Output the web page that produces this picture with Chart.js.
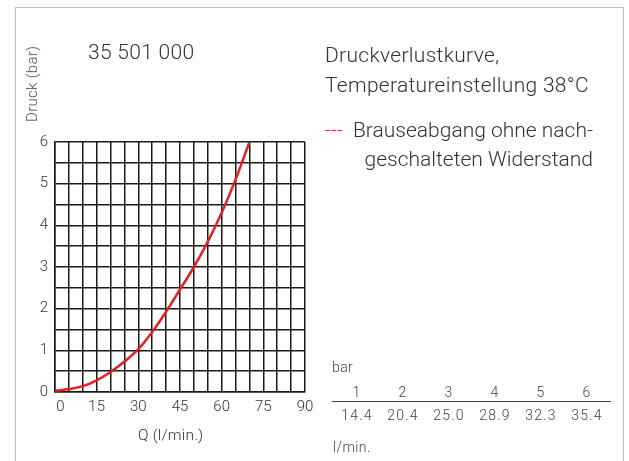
<!DOCTYPE html>
<html>
<head>
<meta charset="utf-8">
<script src="https://cdn.jsdelivr.net/npm/chart.js@4"></script>
<style>
  body { margin: 0; background: #fff; font-family: Roboto, "Noto Sans", sans-serif; font-weight: 300; color: #333; }
  #wrap { position: relative; width: 629px; height: 461px; overflow: hidden; }
  #chart { position: absolute; left: 0; top: 0; }
  .frame { position: absolute; left: 15px; top: 7px; width: 607px; height: 470px; border: 1.5px solid #bdbdbd; }
  .txt { position: absolute; white-space: nowrap; }
  .big { font-size: 21px; letter-spacing: 0.3px; }
  .small { font-size: 14px; line-height: 14px; color: #444; letter-spacing: 0.4px; }
  .row { position: absolute; left: 334px; width: 276px; display: flex; font-size: 14px; line-height: 14px; color: #444; letter-spacing: 1.2px; }
  .row span { flex: 1; text-align: center; }
</style>
</head>
<body>
<div id="wrap">
  <div class="frame"></div>
  <canvas id="chart" width="629" height="461"></canvas>
  <div class="txt big" style="left:88px; top:42px; line-height:21px;">35 501 000</div>
  <div class="txt" style="left:25px; top:122px; font-size:15px; line-height:15px; color:#555; letter-spacing:0.3px; transform:rotate(-90deg); transform-origin:left top;">Druck (bar)</div>
  <div class="txt big" style="left:325px; top:40px; line-height:30px;">Druckverlustkurve,<br>Temperatureinstellung 38°C</div>
  <div class="txt" style="left:300px; width:293px; top:116px; font-size:21px; line-height:29px; text-align:right;"><span style="color:#e3202a;">---</span>&nbsp; Brauseabgang ohne nach-<br>geschalteten Widerstand</div>
  <div class="txt" style="left:138px; top:427px; font-size:15.5px; line-height:16px; letter-spacing:0.2px;">Q (l/min.)</div>
  <div class="txt small" style="left:332px; top:360px;">bar</div>
  <div class="row" id="rowBar" style="top:385px;"></div>
  <div class="txt" style="left:332px; top:401px; width:279px; height:0; border-top:1.5px solid #444;"></div>
  <div class="row" id="rowFlow" style="top:408px;"></div>
  <div class="txt small" style="left:333px; top:440px;">l/min.</div>
</div>
<script>
// Kurve
const flowQ = [0, 5, 10, 15, 20, 25, 30, 35, 40, 45, 50, 55, 60, 65, 70];
const pressure = [0.03, 0.07, 0.14, 0.28, 0.48, 0.73, 1.03, 1.44, 1.93, 2.46, 3.0, 3.61, 4.3, 5.1, 6.0];

// Tabelle
const tableBar = ['1', '2', '3', '4', '5', '6'];
const tableFlow = ['14.4', '20.4', '25.0', '28.9', '32.3', '35.4'];

function fillRow(id, values) {
    const row = document.getElementById(id);
    values.forEach(v => {
        const s = document.createElement('span');
        s.textContent = v;
        row.appendChild(s);
    });
}
fillRow('rowBar', tableBar);
fillRow('rowFlow', tableFlow);

const gridColor = '#1a1a1a';
const tickFont = { family: 'Roboto, sans-serif', size: 15, weight: 300 };

new Chart(document.getElementById('chart'), {
    type: 'line',
    data: {
        datasets: [{
            data: flowQ.map((q, i) => ({ x: q, y: pressure[i] })),
            borderColor: '#e3202a',
            borderWidth: 2.5,
            pointRadius: 0,
            tension: 0.4,
            fill: false
        }]
    },
    options: {
        responsive: false,
        animation: false,
        layout: { padding: { left: 15, top: 142, right: 324, bottom: 49 } },
        plugins: { legend: { display: false }, tooltip: { enabled: false } },
        scales: {
            x: {
                type: 'linear', min: 0, max: 90,
                ticks: {
                    stepSize: 5, autoSkip: false, maxRotation: 0, padding: 6,
                    color: '#333', font: tickFont,
                    // "0" sitzt im Original etwas rechts der Achse
                    callback: v => (v === 0 ? '   0' : (v % 15 === 0 ? v : ''))
                },
                grid: { color: gridColor, lineWidth: 1.5, drawTicks: false },
                border: { color: gridColor, width: 1.5 },
                afterFit: s => { s.height = 20; }
            },
            y: {
                min: 0, max: 6,
                ticks: {
                    stepSize: 0.5, autoSkip: false, padding: 7,
                    color: '#333', font: tickFont,
                    callback: v => (Number.isInteger(v) ? v : '')
                },
                grid: { color: gridColor, lineWidth: 1.5, drawTicks: false },
                border: { color: gridColor, width: 1.5 },
                afterFit: s => { s.width = 40; }
            }
        }
    }
});
</script>
</body>
</html>
